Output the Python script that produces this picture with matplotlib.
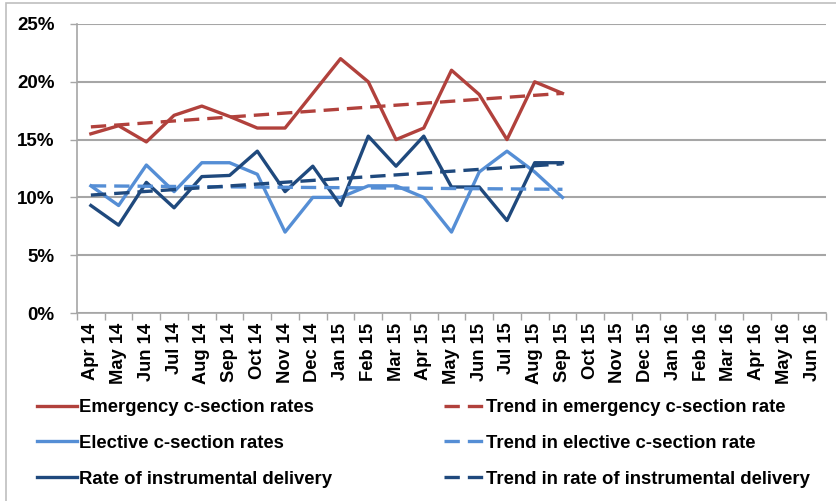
import numpy as np
import matplotlib
matplotlib.use('Agg')
import matplotlib.pyplot as plt
from matplotlib.patches import Rectangle
from matplotlib.ticker import FuncFormatter

# Monthly rates (%), Apr 2014 to Sep 2015; axis runs on to Jun 2016
months = ['Apr 14', 'May 14', 'Jun 14', 'Jul 14', 'Aug 14', 'Sep 14', 'Oct 14',
          'Nov 14', 'Dec 14', 'Jan 15', 'Feb 15', 'Mar 15', 'Apr 15', 'May 15',
          'Jun 15', 'Jul 15', 'Aug 15', 'Sep 15', 'Oct 15', 'Nov 15', 'Dec 15',
          'Jan 16', 'Feb 16', 'Mar 16', 'Apr 16', 'May 16', 'Jun 16']

emergency = [15.5, 16.2, 14.8, 17.1, 17.9, 17.0, 16.0, 16.0, 19.0, 22.0,
             20.0, 15.0, 16.0, 21.0, 18.9, 15.0, 20.0, 19.0]
elective = [11.0, 9.3, 12.8, 10.5, 13.0, 13.0, 12.0, 7.0, 10.0, 10.0,
            11.0, 11.0, 10.0, 7.0, 12.2, 14.0, 12.2, 10.0]
instrumental = [9.3, 7.6, 11.3, 9.1, 11.8, 11.9, 14.0, 10.5, 12.7, 9.3,
                15.3, 12.7, 15.3, 10.9, 10.9, 8.0, 13.0, 13.0]

# Linear trend lines: value at first and last reported month
trend_emergency = [16.1, 19.0]
trend_elective = [11.0, 10.7]
trend_instrumental = [10.2, 12.9]

red = '#B1413C'
light_blue = '#558ED5'
dark_blue = '#1F497D'
grid_grey = '#A6A6A6'
tick_font = ['Liberation Sans', 'DejaVu Sans']

fig = plt.figure(figsize=(8.36, 5.01), dpi=100)
ax = fig.add_axes([77 / 836, 1 - 313 / 501, 749 / 836, 289 / 501])

x = np.arange(len(emergency))
x_trend = [x[0], x[-1]]
lw = 2.4
dash = (0, (4.6, 2.4))

ax.plot(x, emergency, color=red, lw=lw, label='Emergency c-section rates')
ax.plot(x, elective, color=light_blue, lw=lw, label='Elective c-section rates')
ax.plot(x, instrumental, color=dark_blue, lw=lw, label='Rate of instrumental delivery')
ax.plot(x_trend, trend_emergency, color=red, lw=lw, ls=dash,
        label='Trend in emergency c-section rate')
ax.plot(x_trend, trend_elective, color=light_blue, lw=lw, ls=dash,
        label='Trend in elective c-section rate')
ax.plot(x_trend, trend_instrumental, color=dark_blue, lw=lw, ls=dash,
        label='Trend in rate of instrumental delivery')

ax.set_xlim(-0.5, len(months) - 0.5)
ax.set_ylim(0, 25)
ax.set_yticks(range(0, 26, 5))
ax.yaxis.set_major_formatter(FuncFormatter(lambda v, p: f'{v:.0f}%'))
ax.yaxis.grid(True, color=grid_grey, lw=1.5)
ax.set_axisbelow(True)

ax.set_xticks(range(len(months)))
ax.set_xticklabels(months, rotation=90, fontsize=13.2, fontweight='bold',
                   family=tick_font)
ax.set_xticks(np.arange(-0.5, len(months), 1), minor=True)
ax.tick_params(axis='x', which='major', length=0, pad=7)
ax.tick_params(axis='x', which='minor', length=5, color=grid_grey, width=1)
ax.tick_params(axis='y', length=5, color=grid_grey, width=1, pad=11)
for lab in ax.get_yticklabels():
    lab.set_fontsize(13.5)
    lab.set_fontweight('bold')
    lab.set_family(tick_font)

for side in ['top', 'right']:
    ax.spines[side].set_visible(False)
for side in ['left', 'bottom']:
    ax.spines[side].set_color(grid_grey)
    ax.spines[side].set_linewidth(1.2)

# Legend in two columns: observed rates on the left, trends on the right
handles, labels = ax.get_legend_handles_labels()
legend_kw = dict(loc='upper left', frameon=False,
                 prop={'family': tick_font, 'weight': 'bold', 'size': 13.3},
                 handlelength=2.15, handletextpad=0.12, labelspacing=1.02,
                 borderpad=0, borderaxespad=0)
leg1 = fig.legend(handles[:3], labels[:3],
                  bbox_to_anchor=(37 / 836, 1 - 399 / 501), **legend_kw)
leg2 = fig.legend(handles[3:], labels[3:],
                  bbox_to_anchor=(444 / 836, 1 - 399 / 501), **legend_kw)

# Chart area border
fig.patches.append(Rectangle((6 / 836, -0.05), 1.1, 1.05 - 3 / 501,
                             transform=fig.transFigure, fill=False,
                             edgecolor='#BFBFBF', lw=1.2))

fig.savefig('out.png', dpi=100)
